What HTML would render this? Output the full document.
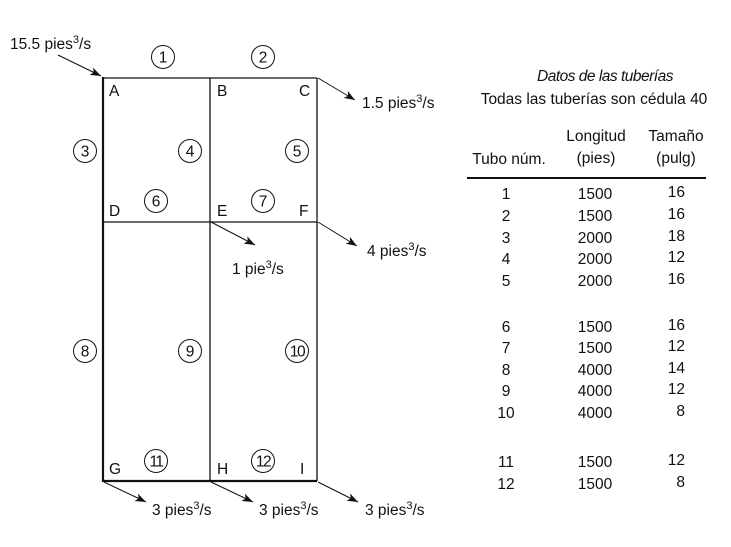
<!DOCTYPE html>
<html><head><meta charset="utf-8"><style>
html,body{margin:0;padding:0;background:#fff}
svg{display:block}
text{font-family:"Liberation Sans",sans-serif;font-size:15.5px;fill:#111}
</style></head><body>
<svg id="fig" width="731" height="547" viewBox="0 0 731 547">
<defs><marker id="ah" viewBox="0 0 12 10" refX="12" refY="5" markerWidth="11" markerHeight="9" markerUnits="userSpaceOnUse" orient="auto"><path d="M0,0.5 L12,5 L0,9.5 L3,5z" fill="#111"/></marker></defs>
<g stroke="#111" fill="none">
<line x1="103" y1="78" x2="317" y2="78" stroke-width="1.3"/>
<line x1="103" y1="222" x2="317" y2="222" stroke-width="1.3"/>
<line x1="103" y1="481" x2="317" y2="481" stroke-width="2.2"/>
<line x1="103" y1="77" x2="103" y2="482" stroke-width="2.2"/>
<line x1="210" y1="78" x2="210" y2="481" stroke-width="1.3"/>
<line x1="317" y1="78" x2="317" y2="481" stroke-width="1.3"/>
</g>
<g id="arrows" stroke="#111" stroke-width="1" marker-end="url(#ah)">
<line x1="58" y1="55" x2="101" y2="76"/>
<line x1="318" y1="78" x2="355" y2="100"/>
<line x1="211" y1="222" x2="255" y2="245"/>
<line x1="318" y1="222" x2="357" y2="246"/>
<line x1="104" y1="482" x2="146" y2="502"/>
<line x1="211" y1="482" x2="253" y2="502"/>
<line x1="318" y1="482" x2="358" y2="502"/>
</g>
<g>
<text x="10" y="49">15.5 pies<tspan dy="-6" font-size="11">3</tspan><tspan dy="6">/s</tspan></text>
<text x="362" y="108">1.5 pies<tspan dy="-6" font-size="11">3</tspan><tspan dy="6">/s</tspan></text>
<text x="232" y="274">1 pie<tspan dy="-6" font-size="11">3</tspan><tspan dy="6">/s</tspan></text>
<text x="367" y="256">4 pies<tspan dy="-6" font-size="11">3</tspan><tspan dy="6">/s</tspan></text>
<text x="152" y="515">3 pies<tspan dy="-6" font-size="11">3</tspan><tspan dy="6">/s</tspan></text>
<text x="259" y="515">3 pies<tspan dy="-6" font-size="11">3</tspan><tspan dy="6">/s</tspan></text>
<text x="365" y="515">3 pies<tspan dy="-6" font-size="11">3</tspan><tspan dy="6">/s</tspan></text>
</g>
<g>
<text x="109" y="96">A</text><text x="217" y="96">B</text><text x="299" y="96">C</text>
<text x="109" y="216">D</text><text x="217" y="216">E</text><text x="299" y="216">F</text>
<text x="109" y="474">G</text><text x="217" y="474">H</text><text x="300" y="474">I</text>
</g>
<g id="circles"></g>
<g>
<text x="605" y="81" text-anchor="middle" font-style="italic" letter-spacing="-0.5">Datos de las tuberías</text>
<text x="594" y="104" text-anchor="middle">Todas las tuberías son cédula 40</text>
<text x="596" y="141" text-anchor="middle">Longitud</text>
<text x="676" y="141" text-anchor="middle">Tamaño</text>
<text x="509" y="164" text-anchor="middle">Tubo núm.</text>
<text x="596" y="163" text-anchor="middle">(pies)</text>
<text x="676" y="163" text-anchor="middle">(pulg)</text>
<line x1="467" y1="178" x2="706" y2="178" stroke="#111" stroke-width="2"/>
</g>
<g id="rows"></g>
</svg>
<script>
const pipeNums=[1,2,3,4,5,6,7,8,9,10,11,12];
const lengths=[1500,1500,2000,2000,2000,1500,1500,4000,4000,4000,1500,1500];
const sizes=[16,16,18,12,16,16,12,14,12,8,12,8];
const rowY=[199,221,243,264,286,332,353,375,396,418,467,489];
const NS="http://www.w3.org/2000/svg";
const rows=document.getElementById('rows');
function t(x,y,s,anchor){const e=document.createElementNS(NS,'text');e.setAttribute('x',x);e.setAttribute('y',y);e.setAttribute('text-anchor',anchor);e.textContent=s;rows.appendChild(e);return e;}
for(let i=0;i<pipeNums.length;i++){
 const a=t(506,rowY[i],pipeNums[i],'middle');
 
 
 const b=t(595,rowY[i],lengths[i],'middle');
 
 
 const c=t(685,rowY[i]-2,sizes[i],'end');
 
 
}
const circNums=[1,2,3,4,5,6,7,8,9,10,11,12];
const circX=[163,263,85,190,297,156,263,85,190,297,156,263];
const circY=[57,57,151,151,151,201,201,351,351,351,461,461];
const cg=document.getElementById('circles');
for(let i=0;i<circNums.length;i++){
 const g=document.createElementNS(NS,'g');
 
 
 const c=document.createElementNS(NS,'circle');
 c.setAttribute('cx',circX[i]);c.setAttribute('cy',circY[i]);c.setAttribute('r',11.5);
 c.setAttribute('fill','none');c.setAttribute('stroke','#111');c.setAttribute('stroke-width','1');
 const tx=document.createElementNS(NS,'text');
 tx.setAttribute('x',circX[i]);tx.setAttribute('y',circY[i]+5.5);tx.setAttribute('text-anchor','middle');
 if(circNums[i]>=10) tx.setAttribute('letter-spacing','-1.5');
 tx.textContent=circNums[i];
 g.appendChild(c);g.appendChild(tx);cg.appendChild(g);
}
</script>
</body></html>
